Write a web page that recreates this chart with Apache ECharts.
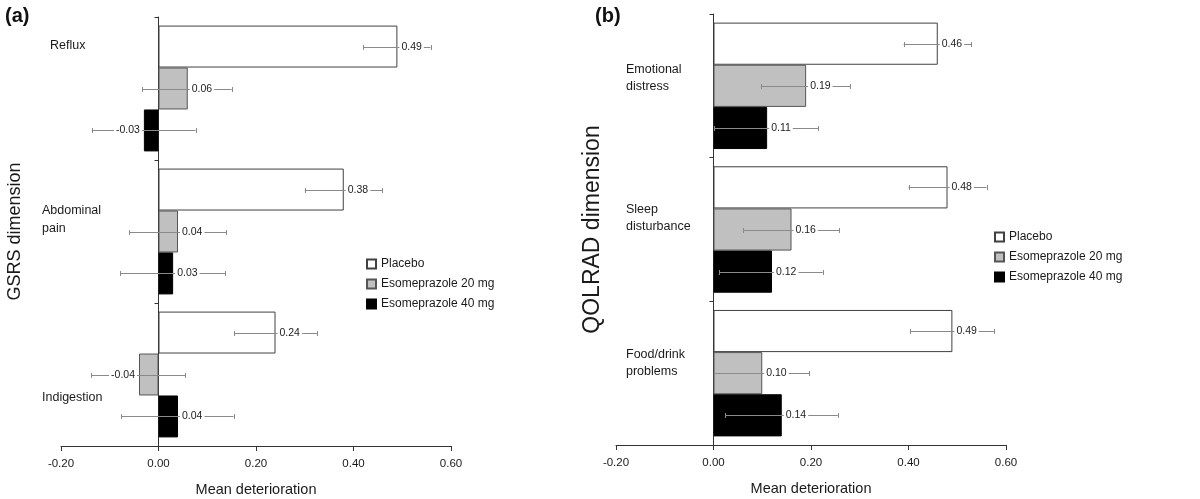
<!DOCTYPE html>
<html>
<head>
<meta charset="utf-8">
<script src="https://cdn.jsdelivr.net/npm/echarts@6/dist/echarts.min.js"></script>
<style>
html,body{margin:0;padding:0;background:#fff;}
#chart{width:1200px;height:499px;}
</style>
</head>
<body>
<div id="chart"></div>
<script>
// ---------- data ----------
const seriesNames = ['Placebo', 'Esomeprazole 20 mg', 'Esomeprazole 40 mg'];

const catsA = ['Reflux', 'Abdominal pain', 'Indigestion'];
const aPlacebo = [0.49, 0.38, 0.24];
const a20 = [0.06, 0.04, -0.04];
const a40 = [-0.03, 0.03, 0.04];
const aPlaceboLo = [0.42, 0.30, 0.155];
const aPlaceboHi = [0.558, 0.459, 0.325];
const a20Lo = [-0.033, -0.06, -0.138];
const a20Hi = [0.15, 0.139, 0.055];
const a40Lo = [-0.137, -0.078, -0.076];
const a40Hi = [0.076, 0.137, 0.154];

const catsB = ['Emotional distress', 'Sleep disturbance', 'Food/drink problems'];
const bPlacebo = [0.46, 0.48, 0.49];
const b20 = [0.19, 0.16, 0.10];
const b40 = [0.11, 0.12, 0.14];
const bPlaceboLo = [0.39, 0.40, 0.403];
const bPlaceboHi = [0.529, 0.56, 0.575];
const b20Lo = [0.097, 0.06, 0.002];
const b20Hi = [0.281, 0.258, 0.196];
const b40Lo = [0.002, 0.012, 0.024];
const b40Hi = [0.215, 0.224, 0.255];

const xTicks = [-0.2, 0, 0.2, 0.4, 0.6];

// ---------- styles ----------
const FONT = "'Liberation Sans', Arial, sans-serif";
const TXT = '#1a1a1a';
const barStyles = [
  {color: '#ffffff', borderColor: '#404040', borderWidth: 1},
  {color: '#c0c0c0', borderColor: '#555555', borderWidth: 1},
  {color: '#000000', borderColor: '#000000', borderWidth: 1}
];
const GAP = 0.12;
// category label text layout (line breaks & vertical spacers), style only
const labelLayoutA = {
  'Reflux': '{r|Reflux}\n{s86| }',
  'Abdominal pain': 'Abdominal\npain\n{s24| }',
  'Indigestion': '{s47| }\nIndigestion'
};
const labelLayoutB = {
  'Emotional distress': 'Emotional\ndistress\n{s15| }',
  'Sleep disturbance': 'Sleep\ndisturbance\n{s22| }',
  'Food/drink problems': 'Food/drink\nproblems\n{s20| }'
};
function spacer(h) { return {fontSize: 2, lineHeight: h}; }
const richA = {
  r: {fontFamily: FONT, fontSize: 12.5, color: TXT, lineHeight: 18, padding: [0, 0, 0, 8]},
  s86: spacer(86), s24: spacer(24), s47: spacer(47)
};
const richB = {s15: spacer(15), s22: spacer(22), s20: spacer(20)};

function errData(vals, lo, hi, s) {
  return vals.map((v, i) => [v, i, lo[i], hi[i], s]);
}

function renderErr(params, api) {
  const v = api.value(0), cat = api.value(1), lo = api.value(2), hi = api.value(3), s = api.value(4);
  const band = Math.abs(api.size([0, 1])[1]);
  const c = api.coord([v, cat]);
  const barW = band * (1 - GAP) / 3;
  const y = Math.round(c[1] - band * (1 - GAP) / 2 + barW * (s + 0.5)) + 0.5;
  const xl = api.coord([lo, cat])[0];
  const xh = api.coord([hi, cat])[0];
  const cap = 2.5;
  const ls = {stroke: '#8a8a8a', lineWidth: 1};
  const txt = v.toFixed(2);
  const neg = v < 0;
  return {
    type: 'group',
    children: [
      {type: 'line', shape: {x1: xl, y1: y, x2: xh, y2: y}, style: ls},
      {type: 'line', shape: {x1: Math.round(xl) + 0.5, y1: y - cap, x2: Math.round(xl) + 0.5, y2: y + cap}, style: ls},
      {type: 'line', shape: {x1: Math.round(xh) + 0.5, y1: y - cap, x2: Math.round(xh) + 0.5, y2: y + cap}, style: ls},
      {type: 'text', x: neg ? c[0] - 2 : c[0] + 2, y: y,
       style: {text: txt, fill: '#222', font: '10.5px ' + FONT,
               align: neg ? 'right' : 'left', verticalAlign: 'middle',
               backgroundColor: '#fff', padding: [0, 2, 0, 2]}}
    ]
  };
}

function barSeries(name, data, s, gi) {
  return {
    type: 'bar', name: name, data: data, xAxisIndex: gi, yAxisIndex: gi,
    barGap: '0%', barCategoryGap: (GAP * 100) + '%',
    itemStyle: barStyles[s], z: 2, silent: true, animation: false
  };
}
function errSeries(name, vals, lo, hi, s, gi) {
  return {
    type: 'custom', name: name + ' err', xAxisIndex: gi, yAxisIndex: gi,
    renderItem: renderErr, data: errData(vals, lo, hi, s), z: 5,
    encode: {x: 0, y: 1}, silent: true, animation: false
  };
}

function xAxisCfg(gi) {
  return {
    gridIndex: gi, type: 'value', min: xTicks[0], max: xTicks[xTicks.length - 1], interval: 0.2,
    axisLine: {show: true, onZero: false, lineStyle: {color: '#333', width: 1}},
    axisTick: {show: true, length: 5, lineStyle: {color: '#333'}},
    splitLine: {show: false},
    axisLabel: {formatter: v => v.toFixed(2), fontFamily: FONT, fontSize: 11.5, color: TXT, margin: 12},
    name: 'Mean deterioration', nameLocation: 'middle', nameGap: 36, nameMoveOverlap: false,
    nameTextStyle: {fontFamily: FONT, fontSize: 14.5, color: TXT}
  };
}
function yAxisCfg(gi, cats, layout, rich, margin, lh, title, nameGap, titleSize) {
  return {
    gridIndex: gi, type: 'category', data: cats, inverse: true,
    axisLine: {show: true, onZero: true, lineStyle: {color: '#333', width: 1}},
    axisTick: {show: true, length: 4, lineStyle: {color: '#333'}},
    axisLabel: {align: 'left', margin: margin, formatter: v => layout[v], rich: rich,
                fontFamily: FONT, fontSize: 12.5, color: TXT, lineHeight: lh},
    name: title, nameLocation: 'middle', nameGap: nameGap, nameRotate: 90, nameMoveOverlap: false,
    nameTextStyle: {fontFamily: FONT, fontSize: titleSize, color: TXT}
  };
}

const chart = echarts.init(document.getElementById('chart'), null, {renderer: 'canvas'});
chart.setOption({
  animation: false,
  backgroundColor: '#fff',
  title: [
    {text: '(a)', left: 5, top: 6, padding: 0, textStyle: {fontFamily: FONT, fontWeight: 'bold', fontSize: 20, color: '#111'}},
    {text: '(b)', left: 595, top: 6, padding: 0, textStyle: {fontFamily: FONT, fontWeight: 'bold', fontSize: 20, color: '#111'}}
  ],
  legend: [
    {orient: 'vertical', left: 366, top: 258, padding: 0, itemWidth: 9, itemHeight: 9, itemGap: 8, icon: 'rect',
     data: seriesNames, selectedMode: false,
     textStyle: {fontFamily: FONT, fontSize: 12, color: TXT}},
    {orient: 'vertical', left: 994, top: 231, padding: 0, itemWidth: 9, itemHeight: 9, itemGap: 8, icon: 'rect',
     data: seriesNames, selectedMode: false,
     textStyle: {fontFamily: FONT, fontSize: 12, color: TXT}}
  ],
  grid: [
    {left: 61, width: 390, top: 17, height: 429, outerBoundsMode: 'none', containLabel: false},
    {left: 616, width: 390, top: 14, height: 431, outerBoundsMode: 'none', containLabel: false}
  ],
  xAxis: [xAxisCfg(0), xAxisCfg(1)],
  yAxis: [
    yAxisCfg(0, catsA, labelLayoutA, richA, 19, 18, 'GSRS dimension', 37, 18),
    yAxisCfg(1, catsB, labelLayoutB, richB, -10, 17, 'QOLRAD dimension', 12, 23)
  ],
  series: [
    barSeries(seriesNames[0], aPlacebo, 0, 0),
    barSeries(seriesNames[1], a20, 1, 0),
    barSeries(seriesNames[2], a40, 2, 0),
    barSeries(seriesNames[0], bPlacebo, 0, 1),
    barSeries(seriesNames[1], b20, 1, 1),
    barSeries(seriesNames[2], b40, 2, 1),
    errSeries(seriesNames[0], aPlacebo, aPlaceboLo, aPlaceboHi, 0, 0),
    errSeries(seriesNames[1], a20, a20Lo, a20Hi, 1, 0),
    errSeries(seriesNames[2], a40, a40Lo, a40Hi, 2, 0),
    errSeries(seriesNames[0], bPlacebo, bPlaceboLo, bPlaceboHi, 0, 1),
    errSeries(seriesNames[1], b20, b20Lo, b20Hi, 1, 1),
    errSeries(seriesNames[2], b40, b40Lo, b40Hi, 2, 1)
  ]
});
</script>
</body>
</html>
